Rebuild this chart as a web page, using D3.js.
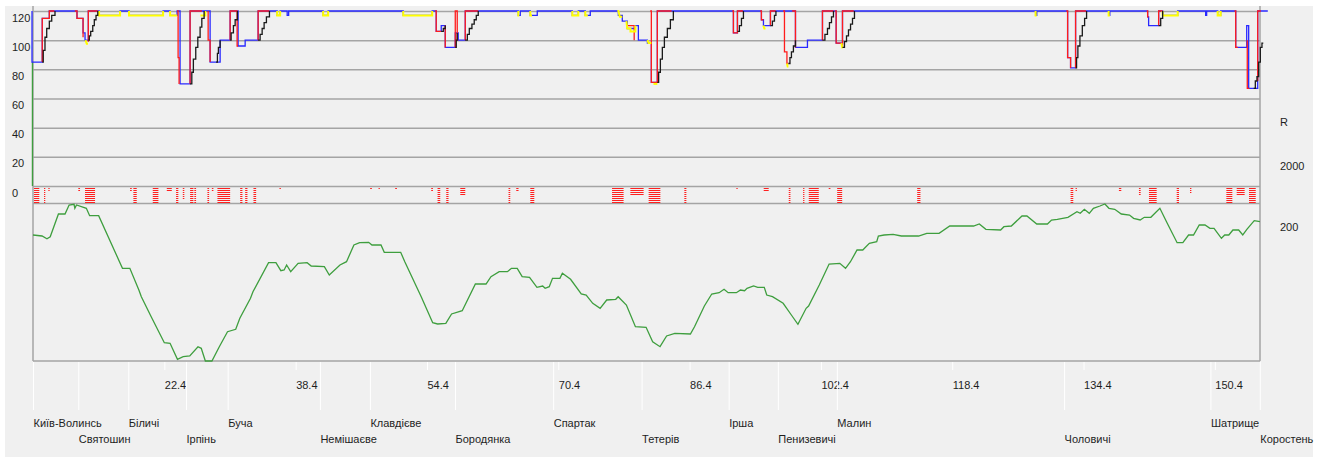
<!DOCTYPE html>
<html>
<head>
<meta charset="utf-8">
<script src="https://cdn.jsdelivr.net/npm/d3@7"></script>
<style>
    html, body { margin: 0; padding: 0; background: #ffffff; }
    svg { display: block; }
    text {
        font-family: 'Liberation Sans', Arial, sans-serif;
        font-size: 11px;
        fill: #1e1e1e;
    }
</style>
</head>
<body>
<div id="chart"></div>
<script>
// km axis
const kmDomain = [6.4, 155.9]
const kmTicks = [22.4, 38.4, 54.4, 70.4, 86.4, 102.4, 118.4, 134.4, 150.4]

// stations
const stationNames = ['Київ-Волинсь', 'Святошин', 'Біличі', 'Ірпінь', 'Буча', 'Немішаєве',
    'Клавдієве', 'Бородянка', 'Спартак', 'Тетерів', 'Ірша', 'Пенизевичі', 'Малин',
    'Чоловичі', 'Шатрище', 'Коростень']
const stationKm = [6.4, 11.92, 18.01, 25.04, 30.12, 41.36, 47.45, 57.81, 69.78, 80.55,
    91.16, 97.15, 104.34, 132.03, 149.86, 155.87]

// speed axis
const speedTicks = [0, 20, 40, 60, 80, 100, 120]
const rightLabels = ['R', '2000', '200']

// permanent speed limit, [km, km/h], step after
const blueLimit = [
    [6.28, 120], [6.28, 85], [7.53, 115], [8.39, 120],
    [11.76, 115], [12.50, 105], [12.74, 100], [13.14, 120],
    [14.45, 117], [17.01, 120], [18.10, 117], [22.25, 120], [23.10, 117], [23.96, 120],
    [24.32, 70], [25.54, 120],
    [27.98, 85], [29.20, 100], [30.42, 120],
    [31.39, 96], [32.25, 100], [33.83, 120],
    [36.15, 117], [36.51, 120], [37.37, 117], [37.55, 120],
    [41.75, 117], [42.36, 120],
    [51.51, 117], [55.04, 120],
    [55.53, 106], [56.14, 110], [56.63, 95], [57.85, 105], [58.21, 100], [59.07, 120],
    [65.53, 117], [65.77, 120], [66.99, 117], [67.84, 120], [72.11, 117], [72.84, 120],
    [73.69, 117], [74.30, 120],
    [77.72, 117], [78.20, 113], [78.81, 108], [79.79, 110], [80.16, 100], [81.26, 98],
    [81.74, 71], [82.47, 120],
    [91.74, 105], [92.23, 120],
    [95.15, 114], [95.40, 110], [96.25, 120],
    [99.30, 95], [100.76, 100], [102.59, 120],
    [104.26, 98], [105.03, 120],
    [128.56, 117], [128.70, 120],
    [132.46, 88], [132.82, 81], [133.43, 120],
    [137.46, 117], [137.60, 120],
    [142.21, 116], [142.33, 110], [143.55, 120], [144.04, 117], [145.87, 120],
    [149.28, 117], [149.40, 120], [150.74, 117], [151.11, 120],
    [152.94, 95], [154.28, 110], [154.52, 67], [155.62, 120], [156.85, 120],
]

// braking curves, [km, km/h] polylines
const redCurves = [
    [[7.53, 85], [7.53, 115], [8.39, 115], [8.39, 120], [9.0, 120]],
    [[11.5, 120], [11.76, 120], [11.76, 115], [12.50, 115], [12.50, 102]],
    [[13.14, 99], [13.14, 120], [14.3, 120]],
    [[23.96, 120], [24.08, 120], [24.08, 88], [24.2, 88], [24.2, 70]],
    [[25.54, 70], [25.54, 120], [26.97, 120]],
    [[27.74, 120], [27.74, 100], [27.98, 100], [27.98, 85]],
    [[30.42, 100], [30.42, 120], [31.27, 120], [31.27, 96], [31.39, 96]],
    [[33.83, 100], [33.83, 120], [35.21, 120]],
    [[55.4, 120], [55.53, 120], [55.53, 106], [56.14, 106]],
    [[56.63, 110], [56.63, 95]],
    [[57.85, 95], [57.85, 120], [58.09, 120], [58.09, 100], [58.21, 100]],
    [[59.07, 100], [59.07, 120], [60.65, 120]],
    [[78.81, 110], [79.65, 110], [79.65, 100]],
    [[81.6, 120], [81.74, 120], [81.74, 71], [82.47, 71], [82.47, 120], [84.2, 120]],
    [[91.6, 120], [91.74, 120], [91.74, 105], [92.23, 105], [92.23, 120], [92.9, 120]],
    [[95.0, 120], [95.15, 120], [95.15, 114], [95.4, 114]],
    [[96.25, 110], [96.25, 120], [96.9, 120]],
    [[97.8, 120], [97.96, 120], [97.96, 92], [98.26, 92], [98.26, 84], [98.44, 84]],
    [[98.9, 120], [99.3, 120], [99.3, 95]],
    [[102.59, 100], [102.59, 120], [103.93, 120]],
    [[104.1, 120], [104.26, 120], [104.26, 98], [104.9, 98]],
    [[105.03, 95], [105.03, 120], [106.4, 120]],
    [[132.3, 120], [132.46, 120], [132.46, 88], [132.82, 88], [132.82, 81]],
    [[133.43, 81], [133.43, 120], [134.7, 120]],
    [[142.1, 120], [142.21, 120], [142.21, 116], [142.33, 116]],
    [[143.55, 110], [143.55, 120], [144.04, 120]],
    [[152.8, 120], [152.94, 120], [152.94, 95], [153.2, 95]],
    [[154.35, 100], [154.35, 67], [154.6, 67]],
    [[155.62, 72], [155.62, 120], [156.0, 120]],
]

// temporary limits, [km, km/h] polylines
const yellowCurves = [
    [[12.8, 100], [12.95, 97.5], [13.1, 97.5]],
    [[14.45, 120], [14.45, 117], [17.01, 117], [17.01, 120]],
    [[18.10, 120], [18.10, 117], [22.25, 117], [22.25, 120]],
    [[23.10, 120], [23.10, 117], [23.96, 117]],
    [[26.8, 117], [27.4, 117], [27.4, 120]],
    [[36.15, 120], [36.15, 117], [36.51, 117], [36.51, 120]],
    [[41.75, 120], [41.75, 117], [42.36, 117], [42.36, 120]],
    [[51.51, 120], [51.51, 117], [55.04, 117], [55.04, 120]],
    [[65.53, 120], [65.53, 117], [65.65, 117]],
    [[66.99, 120], [66.99, 117], [67.2, 117]],
    [[72.11, 120], [72.11, 117], [72.84, 117], [72.84, 120]],
    [[73.69, 120], [73.69, 117], [74.0, 117]],
    [[77.6, 120], [77.72, 120], [77.9, 116], [78.2, 116]],
    [[78.7, 113], [78.81, 108], [79.2, 108], [79.2, 106], [79.79, 106], [79.79, 110]],
    [[81.26, 100], [81.4, 98], [81.74, 98]],
    [[82.0, 70], [82.47, 70]],
    [[95.4, 110], [95.5, 108], [95.65, 108]],
    [[98.26, 84], [98.35, 82], [98.44, 82]],
    [[104.9, 98], [105.0, 95], [105.05, 95]],
    [[128.56, 120], [128.56, 117], [128.7, 117]],
    [[137.46, 120], [137.46, 117], [137.6, 117]],
    [[144.04, 120], [144.04, 117], [145.87, 117], [145.87, 120]],
    [[150.74, 120], [150.74, 117], [151.11, 117], [151.11, 120]],
]

// acceleration runs, [km, km/h], step after
const blackRuns = [
    [[7.53, 85], [7.65, 93], [7.86, 102], [8.07, 108], [8.39, 113], [8.68, 117], [9.08, 120]],
    [[13.14, 100], [13.26, 103], [13.43, 106], [13.68, 110], [13.87, 114], [14.08, 117], [14.29, 120]],
    [[25.54, 70], [25.75, 78], [25.94, 87], [26.23, 95], [26.48, 102], [26.76, 109], [26.97, 115], [27.25, 120]],
    [[28.71, 85], [28.87, 91], [28.99, 95], [29.2, 100]],
    [[30.42, 100], [30.54, 105], [30.82, 110], [31.03, 114], [31.31, 120]],
    [[33.83, 100], [34.07, 104], [34.32, 108], [34.56, 112], [34.84, 116], [35.21, 120]],
    [[56.14, 106], [56.39, 108], [56.63, 110]],
    [[57.85, 95], [57.97, 100], [58.09, 105]],
    [[59.07, 100], [59.32, 104], [59.56, 108], [59.88, 111], [60.16, 114], [60.41, 117], [60.65, 120]],
    [[82.47, 71], [82.63, 78], [82.84, 87], [83.08, 95], [83.33, 102], [83.69, 108], [84.06, 114], [84.42, 120]],
    [[92.23, 106], [92.47, 110], [92.72, 115], [92.96, 120]],
    [[96.25, 110], [96.49, 113], [96.74, 117], [96.92, 120]],
    [[98.44, 84], [98.63, 88], [98.81, 92], [99.05, 96], [99.30, 100]],
    [[102.59, 100], [102.89, 104], [103.2, 108], [103.44, 112], [103.69, 116], [103.93, 120]],
    [[105.03, 95], [105.27, 99], [105.52, 103], [105.76, 107], [106.01, 111], [106.25, 115], [106.49, 120]],
    [[133.43, 81], [133.55, 88], [133.71, 96], [133.96, 103], [134.25, 110], [134.53, 115], [134.77, 120]],
    [[143.55, 110], [143.8, 115], [144.04, 120]],
    [[155.13, 67], [155.33, 72], [155.53, 75], [155.74, 85], [155.94, 95], [156.14, 98], [156.3, 98]],
]

// start of run
const startSpeed = [[6.33, 0], [6.33, 85]]

// curve marks, [km from, km to, stripe rows]
const curveMarks = [
    [6.52, 7.17, 8], [7.74, 7.86, 8], [8.27, 8.39, 2], [11.92, 12.13, 2], [12.74, 13.96, 8],
    [18.23, 18.43, 2], [18.63, 19.04, 8], [20.99, 21.68, 8], [22.70, 23.31, 2], [23.83, 24.11, 8],
    [24.65, 24.84, 6], [25.54, 25.94, 8], [26.06, 26.27, 8], [27.65, 27.86, 8], [28.19, 28.38, 2],
    [28.87, 30.42, 8], [31.64, 31.92, 8], [32.25, 32.53, 8], [33.26, 33.59, 8], [36.43, 36.60, 1],
    [47.48, 47.69, 1], [48.50, 48.62, 1], [50.53, 50.74, 1], [54.92, 55.13, 2], [55.69, 56.02, 8],
    [56.75, 57.03, 8], [58.46, 59.07, 4], [64.34, 64.55, 8], [65.28, 65.56, 2], [66.99, 67.48, 8],
    [76.95, 78.36, 8], [79.18, 80.80, 4], [81.41, 82.84, 8], [85.76, 86.01, 8], [92.10, 92.26, 1],
    [95.43, 96.04, 2], [98.48, 98.69, 8], [100.23, 100.39, 8], [100.92, 102.14, 8], [103.35, 103.56, 1],
    [104.38, 104.99, 8], [114.13, 114.53, 8], [132.82, 133.15, 8], [133.43, 133.55, 2], [138.71, 139.00, 2],
    [141.15, 141.36, 4], [142.37, 143.31, 8], [145.75, 146.03, 8], [147.37, 147.54, 3], [151.80, 152.53, 8],
    [153.06, 154.03, 4], [154.56, 155.38, 8],
]

// longitudinal profile
const profileKm = [6.4, 7.5, 8.1, 8.5, 9.5, 10.3, 10.8, 11.4, 11.5, 11.7,
    12.9, 13.3, 14.4, 17.3, 18.2, 19.3, 19.6, 20.8, 22.4, 23.1,
    24.0, 24.7, 25.5, 26.5, 26.9, 27.4, 28.2, 29.1, 30.1, 31.1,
    31.6, 32.9, 33.2, 35.1, 36.0, 36.6, 37.0, 37.3, 37.8, 38.7,
    39.8, 40.3, 41.9, 42.5, 43.8, 44.6, 45.5, 46.2, 47.3, 47.7,
    48.8, 49.2, 51.2, 51.7, 53.7, 55.1, 55.7, 56.7, 57.4, 58.7,
    60.3, 61.6, 62.2, 63.2, 64.2, 64.7, 65.4, 66.0, 66.9, 67.8,
    68.5, 68.8, 69.3, 69.7, 70.6, 70.9, 71.9, 73.2, 73.8, 74.6,
    75.5, 76.3, 77.4, 77.7, 78.7, 79.8, 81.1, 81.9, 82.8,
    83.6, 84.6, 86.5, 87.0, 88.2, 89.1, 90.0, 90.6, 91.1, 92.1,
    92.6, 93.1, 93.4, 94.2, 94.7, 95.5, 95.8, 96.5, 97.8, 98.8,
    99.6, 100.6, 100.9, 102.2, 103.4, 104.7, 105.4, 106.0, 106.8, 107.5,
    108.3, 109.2, 109.4, 110.1, 111.2, 112.2, 114.3, 115.3, 116.8, 118.1,
    121.0, 121.7, 122.5, 124.3, 124.7, 125.6, 126.9, 127.5, 128.7, 130.0,
    130.5, 131.2, 132.5, 133.6, 134.0, 134.5, 135.1, 135.6, 136.4, 137.0,
    137.5, 138.2, 139.0, 140.0, 140.5, 141.3, 141.8, 142.6, 143.7, 144.6,
    145.8, 146.5, 147.2, 147.8, 148.5, 149.2, 149.8, 150.3, 151.2, 151.6,
    152.1, 152.6, 153.3, 153.8, 154.3, 155.2, 155.9]
const profileElev = [230, 229, 226.3, 228.3, 251, 251, 260, 260.7, 256.7, 260,
    256.7, 249.3, 249.3, 196.7, 196.7, 175, 168.3, 148.3, 122.3, 121.7,
    105.7, 108.3, 109, 118.3, 116.7, 104, 104, 118.3, 133.3, 135.7,
    146.7, 166.7, 173.3, 202.3, 202.3, 194.3, 195, 200, 193.3, 201.7,
    202.3, 199, 198.3, 190, 200, 203.3, 220, 222.3, 222.7, 220,
    220, 212.7, 212.7, 203.3, 168.3, 142.3, 141, 141.7, 151, 154.3,
    181, 181, 188.3, 193.3, 193.3, 196.7, 196.7, 188.3, 187.7, 177.7,
    179, 176.7, 178.3, 186.7, 186.7, 191.7, 185.7, 171, 170, 161.7,
    156.7, 165, 165.7, 168.3, 160, 138.3, 137.7, 123.3, 118.3,
    129, 131.7, 131, 138.3, 159, 171, 172.3, 175.7, 172.3, 172.3,
    175, 174.3, 176.7, 179, 177.7, 177.7, 170, 168.3, 161.7, 150,
    140.7, 156.7, 159, 180, 201, 201.7, 196.7, 203.3, 215, 215,
    221.7, 223.3, 229, 230, 230.7, 229, 229, 231.7, 231.7, 239,
    239, 241, 235.7, 235, 238.3, 239, 249, 249, 241, 241,
    245, 245.7, 247.7, 253.3, 251.7, 255.7, 251.7, 256.7, 259, 261,
    256.7, 255.7, 251, 250, 246.7, 245, 247.7, 247.7, 256.7, 241.7,
    222.3, 222.3, 230, 230, 240, 240, 236.7, 236.7, 226.7, 230,
    230, 235, 235, 230, 235.7, 244.3, 243.3]
const profileDomain = [104, 261]

class TrackProfile {
    constructor(config) {
        this.elementSelector = config.elementSelector
        this.width = 1323
        this.height = 457

        this.PLOT = {
            LEFT: 33,
            RIGHT: 1260,
            TOP: 6,
            SPEED_TOP: 11,
            SPEED_BOTTOM: 186,
            BAND_BOTTOM: 203.5,
            BOTTOM: 361,
        }
        this.GRID = '#a4a4a4'
    }

    init() {
        this.initContainer()
        this.initScales()
        this.initSpeedGrid()
        this.initFrame()
        this.initCurveMarks()
        this.initSpeedLines()
        this.initProfile()
        this.initKmAxis()
        this.initStationAxis()
        this.initRightLabels()
    }

    initContainer() {
        this.svg = d3.select(this.elementSelector)
            .append('svg')
            .attr('width', this.width)
            .attr('height', this.height)

        this.svg.append('rect')
            .attr('x', 5)
            .attr('y', this.PLOT.TOP)
            .attr('width', 1308)
            .attr('height', this.height - this.PLOT.TOP)
            .attr('fill', '#f0f0f0')
    }

    initScales() {
        this.x = d3.scaleLinear()
            .domain(kmDomain)
            .range([this.PLOT.LEFT, this.PLOT.RIGHT])

        this.speedY = d3.scaleLinear()
            .domain([0, 120])
            .range([this.PLOT.SPEED_BOTTOM, this.PLOT.SPEED_TOP])

        this.profileY = d3.scaleLinear()
            .domain(profileDomain)
            .range([this.PLOT.BOTTOM, this.PLOT.BAND_BOTTOM + 0.5])
    }

    initSpeedGrid() {
        const axis = d3.axisLeft(this.speedY)
            .tickValues(speedTicks)
            .tickSizeInner(-(this.PLOT.RIGHT - this.PLOT.LEFT))
            .tickSizeOuter(0)
            .tickPadding(0)

        const g = this.svg.append('g')
            .attr('transform', `translate(${this.PLOT.LEFT},0)`)
            .call(axis)

        g.select('.domain').remove()
        g.selectAll('.tick line')
            .attr('stroke', this.GRID)
            .attr('stroke-width', 1.5)
        g.selectAll('.tick text')
            .attr('x', -21)
            .attr('dy', 10)
            .attr('text-anchor', 'start')
    }

    initFrame() {
        const { LEFT, RIGHT, TOP, BAND_BOTTOM, BOTTOM } = this.PLOT
        const frame = this.svg.append('g')
            .attr('stroke', this.GRID)
            .attr('stroke-width', 1.5)

        frame.append('line')
            .attr('x1', LEFT).attr('x2', LEFT)
            .attr('y1', TOP).attr('y2', BOTTOM)
        frame.append('line')
            .attr('x1', RIGHT).attr('x2', RIGHT)
            .attr('y1', TOP).attr('y2', BOTTOM)
        frame.append('line')
            .attr('x1', LEFT).attr('x2', RIGHT)
            .attr('y1', BAND_BOTTOM).attr('y2', BAND_BOTTOM)
        frame.append('line')
            .attr('x1', LEFT).attr('x2', RIGHT)
            .attr('y1', BOTTOM).attr('y2', BOTTOM)
    }

    initCurveMarks() {
        const stripes = curveMarks.flatMap((m) => d3.range(m[2])
            .map((r) => ({ from: m[0], to: m[1], row: r })))

        this.svg.append('g')
            .selectAll('rect')
            .data(stripes)
            .join('rect')
            .attr('x', (d) => this.x(d.from))
            .attr('width', (d) => Math.max(1.3, this.x(d.to) - this.x(d.from)))
            .attr('y', (d) => this.PLOT.SPEED_BOTTOM + 2 + d.row * 2)
            .attr('height', 1)
            .attr('fill', '#ff2020')
    }

    initSpeedLines() {
        const stepLine = d3.line()
            .x((d) => this.x(d[0]))
            .y((d) => this.speedY(d[1]))
            .curve(d3.curveStepAfter)

        const polyLine = d3.line()
            .x((d) => this.x(d[0]))
            .y((d) => this.speedY(d[1]))

        const lines = this.svg.append('g')
            .attr('fill', 'none')
            .attr('stroke-width', 1.3)

        lines.append('path')
            .datum(startSpeed)
            .attr('d', polyLine)
            .attr('stroke', '#3e9e3e')

        lines.append('path')
            .datum(blueLimit)
            .attr('d', stepLine)
            .attr('stroke', '#2828ff')

        lines.selectAll('.red')
            .data(redCurves)
            .join('path')
            .attr('class', 'red')
            .attr('d', polyLine)
            .attr('stroke', '#ff1c1c')

        // yellow is weak on the grey background, so draw it a bit heavier
        lines.selectAll('.yellow')
            .data(yellowCurves)
            .join('path')
            .attr('class', 'yellow')
            .attr('d', polyLine)
            .attr('stroke', '#ffff00')
            .attr('stroke-width', 2)

        lines.selectAll('.black')
            .data(blackRuns)
            .join('path')
            .attr('class', 'black')
            .attr('d', stepLine)
            .attr('stroke', '#1a1a1a')
    }

    initProfile() {
        const points = profileKm.map((km, i) => [km, profileElev[i]])

        const line = d3.line()
            .x((d) => this.x(d[0]))
            .y((d) => this.profileY(d[1]))

        this.svg.append('path')
            .datum(points)
            .attr('d', line)
            .attr('fill', 'none')
            .attr('stroke', '#3e9e3e')
            .attr('stroke-width', 1.3)
    }

    initKmAxis() {
        const axis = d3.axisBottom(this.x)
            .tickValues(kmTicks)
            .tickSize(8)
            .tickFormat(d3.format('.1f'))

        const g = this.svg.append('g')
            .attr('transform', `translate(0,${this.PLOT.BOTTOM + 1})`)
            .call(axis)

        g.select('.domain').remove()
        g.selectAll('.tick line').attr('stroke', '#ffffff')
        g.selectAll('.tick text')
            .attr('x', 0)
            .attr('y', 23)
            .attr('dy', '0.35em')
            .attr('text-anchor', 'start')
    }

    initStationAxis() {
        const axis = d3.axisBottom(this.x)
            .tickValues(stationKm)
            .tickSize(48)
            .tickFormat((d, i) => stationNames[i])

        const g = this.svg.append('g')
            .attr('transform', `translate(0,${this.PLOT.BOTTOM + 1})`)
            .call(axis)

        g.select('.domain').remove()
        g.selectAll('.tick line').attr('stroke', '#ffffff')
        g.selectAll('.tick text')
            .attr('x', 0)
            .attr('y', (d, i) => (i % 2 === 0 ? 61 : 77))
            .attr('dy', '0.35em')
            .attr('text-anchor', 'start')
    }

    initRightLabels() {
        const ys = [122, 166, 227]
        this.svg.append('g')
            .selectAll('text')
            .data(rightLabels)
            .join('text')
            .attr('x', 1280)
            .attr('y', (d, i) => ys[i])
            .attr('dy', '0.35em')
            .text((d) => d)
    }
}

new TrackProfile({ elementSelector: '#chart' }).init()
</script>
</body>
</html>
